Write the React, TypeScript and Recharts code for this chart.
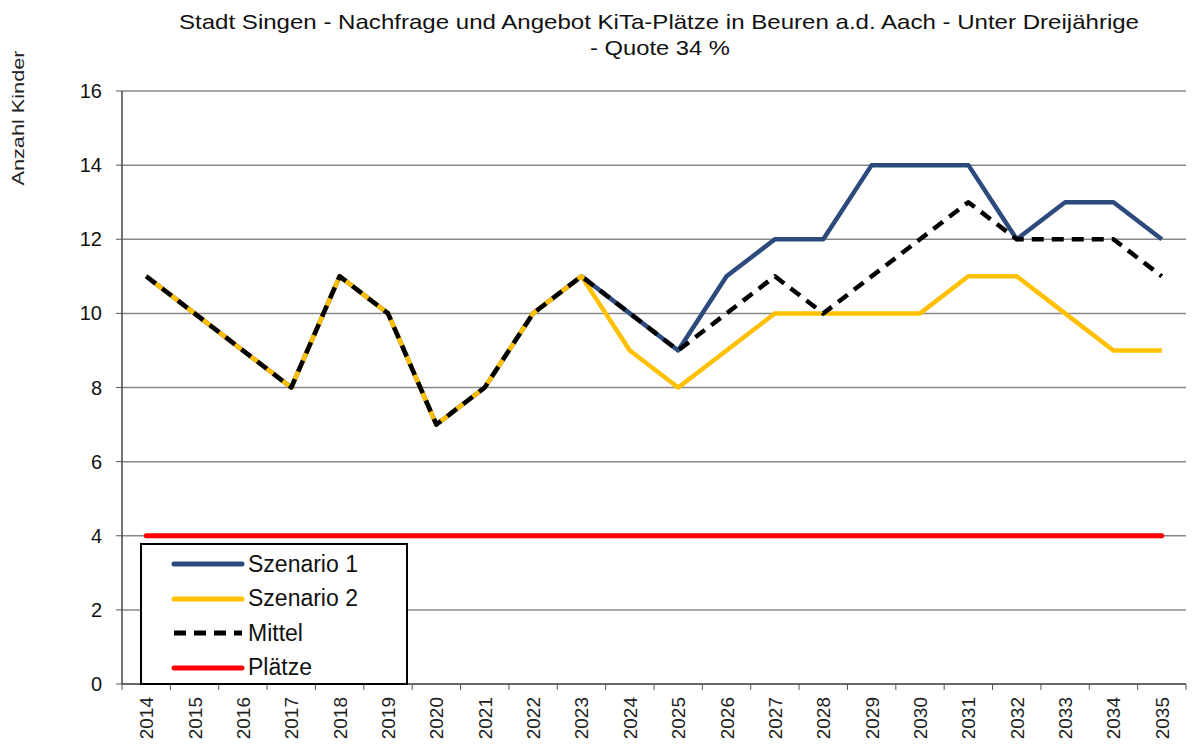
import { LineChart, Line, XAxis, YAxis, CartesianGrid } from "recharts";

const years = [
  "2014", "2015", "2016", "2017", "2018", "2019", "2020", "2021", "2022", "2023", "2024",
  "2025", "2026", "2027", "2028", "2029", "2030", "2031", "2032", "2033", "2034", "2035",
];
const szenario1 = [11, 10, 9, 8, 11, 10, 7, 8, 10, 11, 10, 9, 11, 12, 12, 14, 14, 14, 12, 13, 13, 12];
const szenario2 = [11, 10, 9, 8, 11, 10, 7, 8, 10, 11, 9, 8, 9, 10, 10, 10, 10, 11, 11, 10, 9, 9];
const mittel = [11, 10, 9, 8, 11, 10, 7, 8, 10, 11, 10, 9, 10, 11, 10, 11, 12, 13, 12, 12, 12, 11];
const plaetze = [4, 4, 4, 4, 4, 4, 4, 4, 4, 4, 4, 4, 4, 4, 4, 4, 4, 4, 4, 4, 4, 4];
const yTicks = [0, 2, 4, 6, 8, 10, 12, 14, 16];

const legendItems = [
  { name: "Szenario 1", color: "#2c4a7c", dash: undefined },
  { name: "Szenario 2", color: "#ffc000", dash: undefined },
  { name: "Mittel", color: "#000000", dash: "12 8" },
  { name: "Plätze", color: "#ff0000", dash: undefined },
];

const data = years.map((y, i) => ({
  year: y,
  s1: szenario1[i],
  s2: szenario2[i],
  mittel: mittel[i],
  plaetze: plaetze[i],
}));

const W = 1192;
const H = 745;
const M = { top: 91, right: 6, bottom: 6, left: 72 };
const Y_W = 50;
const X_H = 55;
const plotW = W - M.left - Y_W - M.right;
const band = plotW / years.length;

const font = "'Liberation Sans', Arial, sans-serif";

function YearTick(props: any) {
  const { x, y, payload, index } = props;
  const isLast = index === years.length - 1;
  return (
    <g>
      <line x1={x - band / 2} y1={y - 8} x2={x - band / 2} y2={y - 2} stroke="#555" />
      {isLast && <line x1={x + band / 2} y1={y - 8} x2={x + band / 2} y2={y - 2} stroke="#555" />}
      <text
        x={0}
        y={0}
        transform={`translate(${x + 7}, ${y + 5}) rotate(-90)`}
        textAnchor="end"
        fontSize={19}
        fill="#222"
        fontFamily={font}
      >
        {payload.value}
      </text>
    </g>
  );
}

function LegendBox() {
  return (
    <div
      style={{
        position: "absolute",
        left: 140,
        top: 543,
        border: "2px solid #000",
        background: "#fff",
        width: 268,
        height: 142,
        boxSizing: "border-box",
        padding: "2px 0 0 28px",
        fontFamily: font,
        fontSize: 23,
        color: "#111",
      }}
    >
      {legendItems.map((it) => (
        <div key={it.name} style={{ display: "flex", alignItems: "center", height: 34.5 }}>
          <svg width={76} height={10}>
            <line
              x1={4}
              y1={5}
              x2={72}
              y2={5}
              stroke={it.color}
              strokeWidth={5}
              strokeDasharray={it.dash}
              strokeLinecap={it.dash ? "butt" : "round"}
            />
          </svg>
          <span style={{ marginLeft: 2 }}>{it.name}</span>
        </div>
      ))}
    </div>
  );
}

export default function App() {
  const pad = { left: band / 2, right: band / 2 };
  return (
    <div style={{ position: "absolute", left: 0, top: 0, width: W, height: H, background: "#fff" }}>
      <LineChart width={W} height={H} data={data} margin={M}>
        <CartesianGrid vertical={false} stroke="#888" strokeWidth={1.5} />
        <XAxis
          dataKey="year"
          interval={0}
          height={X_H}
          padding={pad}
          tick={<YearTick />}
          tickLine={false}
          axisLine={{ stroke: "#555", strokeWidth: 1.5 }}
        />
        <XAxis xAxisId="top" dataKey="year" orientation="top" height={0} padding={pad} tick={false} tickLine={false} axisLine={{ stroke: "#222", strokeWidth: 2 }} />
        <YAxis
          width={Y_W}
          domain={[0, 16]}
          ticks={yTicks}
          interval={0}
          tick={{ fontSize: 20, fill: "#111", fontFamily: font }}
          tickLine={{ stroke: "#555" }}
          tickSize={6}
          tickMargin={14}
          axisLine={{ stroke: "#444", strokeWidth: 1.5 }}
        />
        <YAxis yAxisId="right" orientation="right" width={0} domain={[0, 16]} tick={false} tickLine={false} axisLine={{ stroke: "#222", strokeWidth: 2 }} />
        <Line dataKey="s1" name="Szenario 1" stroke="#2c4a7c" strokeWidth={4.5} strokeLinejoin="round" dot={false} isAnimationActive={false} />
        <Line dataKey="s2" name="Szenario 2" stroke="#ffc000" strokeWidth={4.5} strokeLinejoin="round" dot={false} isAnimationActive={false} />
        <Line dataKey="mittel" name="Mittel" stroke="#000" strokeWidth={4.5} strokeDasharray="12 8" strokeLinejoin="round" dot={false} isAnimationActive={false} />
        <Line dataKey="plaetze" name="Plätze" stroke="#ff0000" strokeWidth={5} strokeLinecap="round" dot={false} isAnimationActive={false} />
      </LineChart>
      <svg width={W} height={200} style={{ position: "absolute", left: 0, top: 0, pointerEvents: "none" }}>
        <text x={659} y={29} textAnchor="middle" fontSize={21} fill="#111" fontFamily={font} textLength={960} lengthAdjust="spacingAndGlyphs">
          Stadt Singen - Nachfrage und Angebot KiTa-Plätze in Beuren a.d. Aach - Unter Dreijährige
        </text>
        <text x={660} y={55} textAnchor="middle" fontSize={21} fill="#111" fontFamily={font} textLength={140} lengthAdjust="spacingAndGlyphs">
          - Quote 34 %
        </text>
        <text
          transform="translate(24, 118) rotate(-90)"
          textAnchor="middle"
          fontSize={17}
          fill="#222"
          fontFamily={font}
          textLength={135}
          lengthAdjust="spacingAndGlyphs"
        >
          Anzahl Kinder
        </text>
      </svg>
      <LegendBox />
    </div>
  );
}
